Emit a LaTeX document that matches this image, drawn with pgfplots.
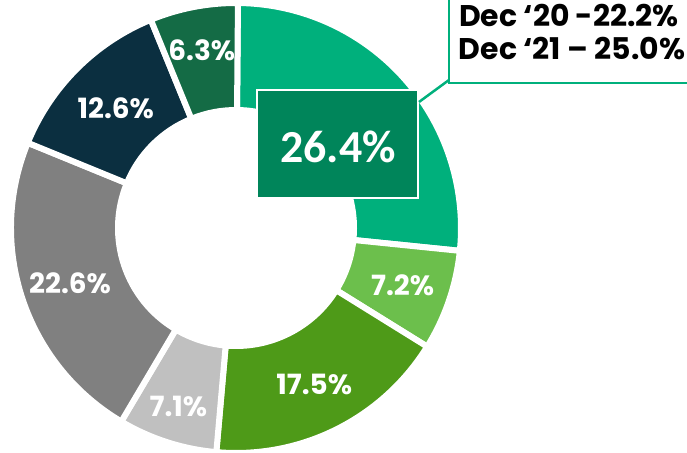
\documentclass[border=0pt]{standalone}
\usepackage{pgfplots}
\pgfplotsset{compat=1.18}
\usepackage{fontspec}
\setmainfont{Poppins}
\newfontfamily\calibri{Carlito}

\definecolor{segA}{HTML}{00B07C}
\definecolor{segB}{HTML}{6CBF4C}
\definecolor{segC}{HTML}{4E9A18}
\definecolor{segD}{HTML}{C0C0C0}
\definecolor{segE}{HTML}{808080}
\definecolor{segF}{HTML}{0B2F40}
\definecolor{segG}{HTML}{146B45}
\definecolor{boxg}{HTML}{00855A}

% running total of the shares drawn so far
\def\cum{0}
% #1 share, #2 colour, #3 label radius, #4 draw label (1/0)
\newcommand\donutseg[4]{%
  \pgfmathsetmacro\angA{89.5-\cum/99.7*360}%
  \pgfmathsetmacro\angB{89.5-(\cum+#1)/99.7*360}%
  \pgfmathsetmacro\angM{(\angA+\angB)/2}%
  \pgfmathsetmacro\newcum{\cum+#1}\xdef\cum{\newcum}%
  \edef\tmp{\noexpand\fill[#2,draw=white,line width=6bp]
    (axis cs:{236+225*cos(\angA)},{-228+225*sin(\angA)})
    arc[start angle=\angA,end angle=\angB,radius=225bp]
    -- (axis cs:{236+118*cos(\angB)},{-228+118*sin(\angB)})
    arc[start angle=\angB,end angle=\angA,radius=118bp] -- cycle;}%
  \tmp
  \ifnum#4=1
    \edef\tmp{\noexpand\node[text=white,font=\noexpand\bfseries\noexpand\fontsize{28}{30}\noexpand\selectfont]
      at (axis cs:{236+#3*cos(\angM)},{-228+#3*sin(\angM)}) {#1\noexpand\%};}%
    \tmp
  \fi}

\begin{document}
\begin{tikzpicture}
\begin{axis}[hide axis, scale only axis, width=687bp, height=453bp,
  xmin=0, xmax=687, ymin=-453, ymax=0, clip=false]
\donutseg{26.4}{segA}{171}{0}
\donutseg{7.2}{segB}{176}{1}
\donutseg{17.5}{segC}{175}{1}
\donutseg{7.1}{segD}{188}{1}
\donutseg{22.6}{segE}{175}{1}
\donutseg{12.6}{segF}{170}{1}
\donutseg{6.3}{segG}{181}{1}

% highlighted share
\draw[fill=boxg, draw=white, line width=2bp] (axis cs:257,-90) rectangle (axis cs:418,-198);
\node[text=white, font=\calibri\bfseries\fontsize{46}{50}\selectfont] at (axis cs:338,-147) {26.4\%};

% callout
\draw[segA, line width=2.5bp] (axis cs:449,-80) -- (axis cs:419,-102);
\draw[segA, fill=white, line width=2.5bp] (axis cs:449,-83) rectangle (axis cs:720,10);
\node[anchor=base, font=\bfseries\fontsize{30}{32}\selectfont] at (axis cs:569,-27) {Dec ‘20 -22.2\%};
\node[anchor=base, font=\bfseries\fontsize{30}{32}\selectfont] at (axis cs:572,-60) {Dec ‘21 – 25.0\%};
\end{axis}
\pgfresetboundingbox
\path (current axis.south west) rectangle (current axis.north east);
\end{tikzpicture}
\end{document}
